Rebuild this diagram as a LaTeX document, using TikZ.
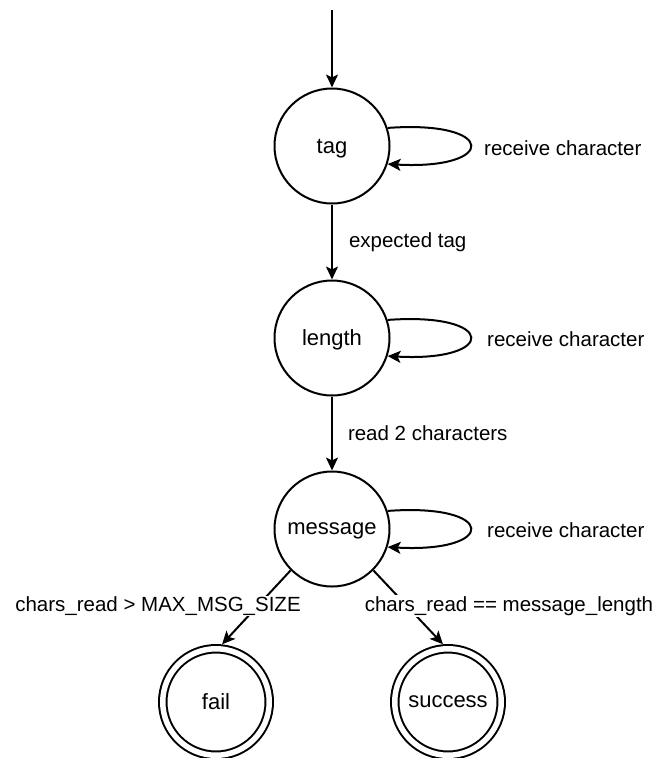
\documentclass[tikz,border=0pt]{standalone}
\usepackage{fontspec}
\setmainfont{Liberation Sans}
\usetikzlibrary{arrows.meta}
\begin{document}
\begin{tikzpicture}[x=1pt,y=-1pt,
  every node/.style={font=\fontsize{20.5}{24}\selectfont},
  state/.style={circle, draw, line width=2pt, minimum size=115pt, inner sep=0pt, text depth=0pt, font=\fontsize{22}{26}\selectfont},
  final/.style={circle, draw, line width=2pt, double, double distance=5.5pt, minimum size=106.5pt, outer sep=4.75pt, inner sep=0pt, font=\fontsize{22}{26}\selectfont},
  trans/.style={line width=2pt, -{Stealth[length=13pt, width=12pt, inset=3pt]}},
  lbl/.style={fill=white, inner sep=1pt},
  looplbl/.style={anchor=west, inner sep=0pt}
]
\path[use as bounding box] (0,0) rectangle (656,758);

% states
\node[state] (tag) at (332,146) {tag};
\node[state] (length) at (332,338) {length};
\node[state] (message) at (332,529) {message};
\node[final] (fail) at (216,702) {fail};
\node[final] (success) at (448,702) {success};

% entry arrow
\coordinate (start) at (332,10);
\draw[trans] (start) -- (tag.north);

% forward transitions
\draw[trans] (tag.south) -- node[looplbl, right=16pt] {expected tag} (length.north);
\draw[trans] (length.south) -- node[looplbl, right=15pt] {read 2 characters} (message.north);

% self loops
\draw[trans] (tag.18) .. controls +(110,-8) and +(110,6) .. (tag.-18);
\draw[trans] (length.18) .. controls +(110,-8) and +(110,6) .. (length.-18);
\draw[trans] (message.18) .. controls +(110,-8) and +(110,6) .. (message.-18);
\node[looplbl] (lt) at (484,148) {receive character};
\node[looplbl] (ll) at (487,339) {receive character};
\node[looplbl] (lm) at (487,530) {receive character};

% exit transitions
\draw[trans] (message.-135) -- (fail.84);
\draw[trans] (message.-45) -- (success.95);
\node[lbl] (lfail) at (158,606) {chars\_read > MAX\_MSG\_SIZE};
\node[lbl] (lsucc) at (509,606) {chars\_read == message\_length};
\end{tikzpicture}
\end{document}
